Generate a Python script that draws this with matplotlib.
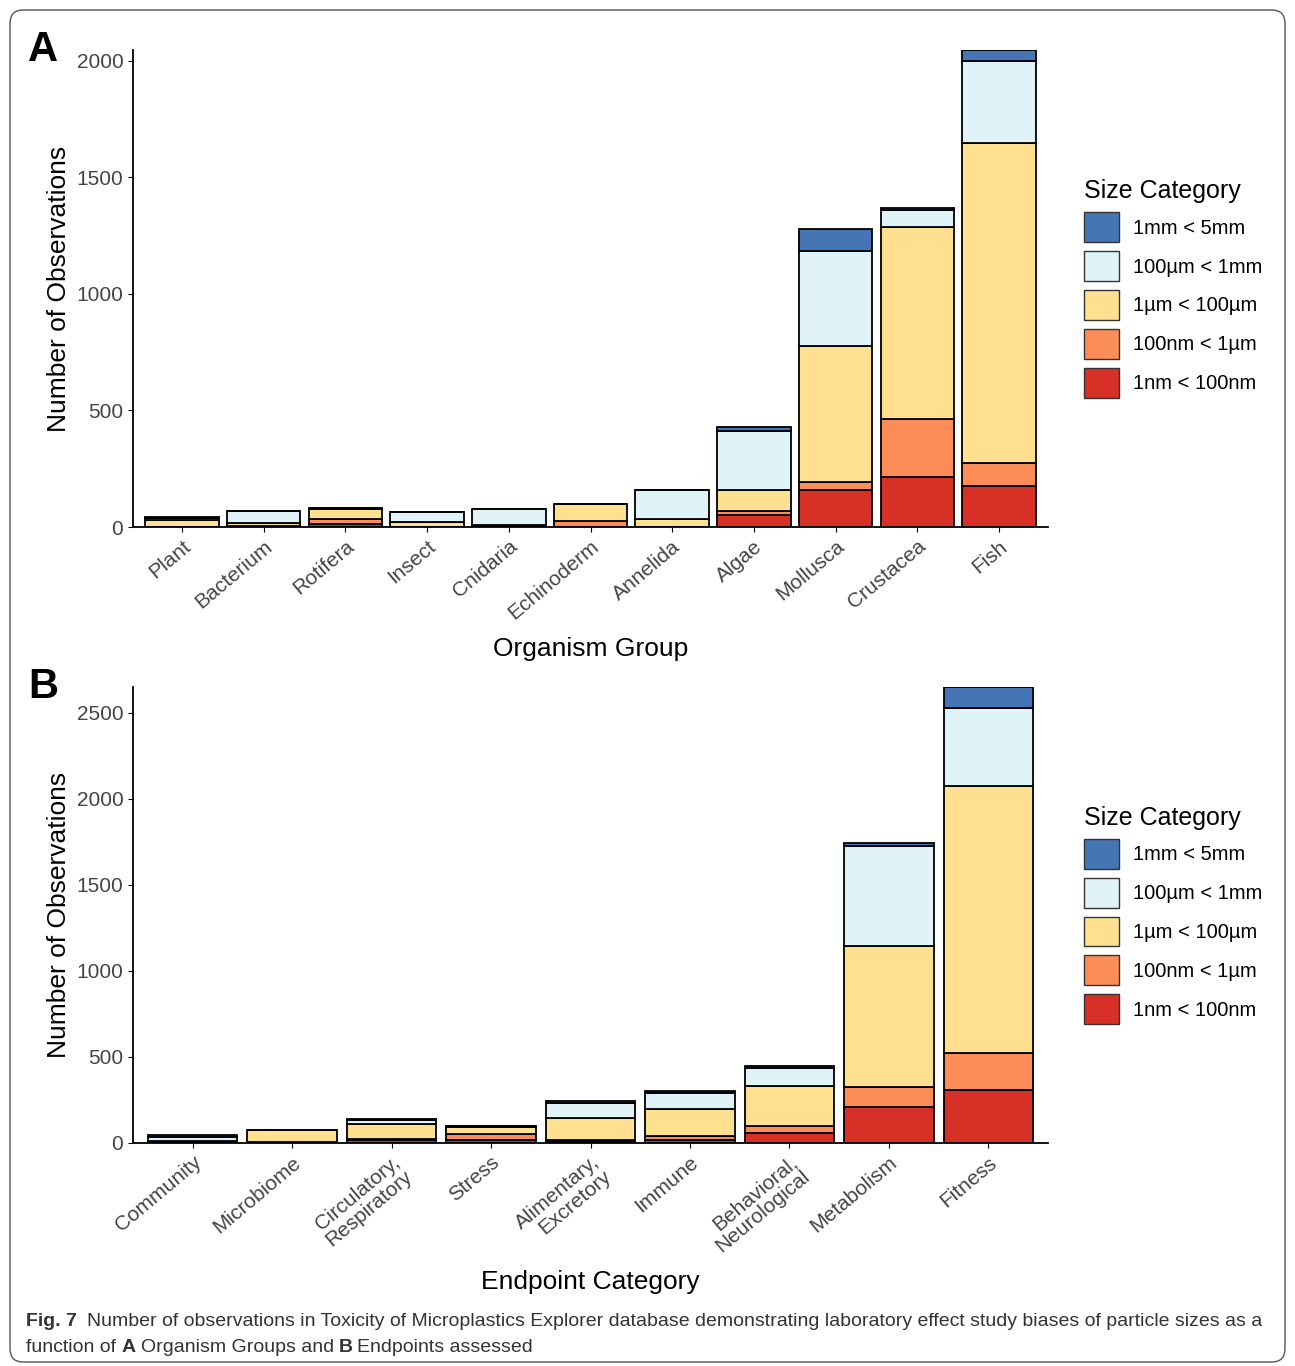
import matplotlib.pyplot as plt
import numpy as np
from matplotlib.patches import FancyBboxPatch, Patch

size_labels = ["1nm < 100nm", "100nm < 1µm", "1µm < 100µm", "100µm < 1mm", "1mm < 5mm"]
size_colors = ["#d73027", "#fc8d59", "#fee090", "#e0f3f8", "#4575b4"]

organisms = ["Plant", "Bacterium", "Rotifera", "Insect", "Cnidaria", "Echinoderm",
             "Annelida", "Algae", "Mollusca", "Crustacea", "Fish"]
org_nm = [0, 3, 15, 2, 3, 2, 0, 50, 160, 215, 175]
org_sub = [0, 3, 18, 0, 2, 25, 0, 20, 35, 250, 100]
org_um = [32, 12, 45, 20, 2, 73, 35, 90, 583, 821, 1372]
org_mm = [5, 50, 3, 43, 70, 0, 125, 250, 405, 73, 353]
org_big = [5, 1, 1, 0, 0, 0, 0, 20, 97, 8, 47]

endpoints = ["Community", "Microbiome", "Circulatory,\nRespiratory", "Stress",
             "Alimentary,\nExcretory", "Immune", "Behavioral,\nNeurological",
             "Metabolism", "Fitness"]
end_nm = [5, 3, 20, 15, 10, 15, 60, 210, 308]
end_sub = [2, 0, 5, 35, 5, 25, 40, 115, 215]
end_um = [5, 70, 85, 45, 130, 160, 230, 820, 1553]
end_mm = [25, 2, 25, 5, 85, 90, 105, 582, 453]
end_big = [9, 0, 5, 0, 15, 10, 15, 18, 122]

plt.rcParams["font.family"] = ["Liberation Sans", "DejaVu Sans"]
fig = plt.figure(figsize=(12.95, 13.66), dpi=100)
W, H = 1295, 1366
fig.patches.append(FancyBboxPatch((10 / W, 4 / H), 1275 / W, 1352 / H,
                                  boxstyle="round,pad=0,rounding_size=0.01",
                                  transform=fig.transFigure, fill=False,
                                  ec="#555555", lw=1))


def panel(rect, cats, layers, ymax, yticks, xlabel, letter):
    ax = fig.add_axes(rect)
    x = np.arange(len(cats))
    bottom = np.zeros(len(cats))
    for vals, col in zip(layers, size_colors):
        vals = np.array(vals, float)
        ax.bar(x, vals, bottom=bottom, width=0.9, color=col, edgecolor="black", lw=1.3)
        bottom += vals
    ax.set_xlim(-0.6, len(cats) - 0.4)
    ax.set_ylim(0, ymax)
    ax.set_yticks(yticks)
    ax.set_xticks(x)
    ax.set_xticklabels(cats, rotation=40, ha="right", rotation_mode="anchor",
                       fontsize=15, color="#444444", linespacing=0.95)
    ax.tick_params(axis="y", labelsize=15, labelcolor="#444444")
    for s in ["top", "right"]:
        ax.spines[s].set_visible(False)
    for s in ["left", "bottom"]:
        ax.spines[s].set_linewidth(1.3)
    ax.set_xlabel(xlabel, fontsize=19, labelpad=10)
    ax.set_ylabel("Number of Observations", fontsize=19)
    ax.text(-0.115, 1.0, letter, transform=ax.transAxes, fontsize=30,
            fontweight="bold", va="center")
    handles = [Patch(facecolor=c, edgecolor="#333333", label=l)
               for c, l in zip(size_colors[::-1], size_labels[::-1])]
    leg = ax.legend(handles=handles, title="Size Category", loc="center left",
                    bbox_to_anchor=(1.02, 0.5), frameon=False,
                    fontsize=14.5, title_fontsize=18, handlelength=1.7, handleheight=1.9,
                    labelspacing=0.45, handletextpad=0.7)
    leg._legend_box.align = "left"
    return ax


panel([133 / W, 1 - 527 / H, 915 / W, 477 / H], organisms,
      [org_nm, org_sub, org_um, org_mm, org_big], 2047, [0, 500, 1000, 1500, 2000],
      "Organism Group", "A")
panel([133 / W, 1 - 1143 / H, 915 / W, 456 / H], endpoints,
      [end_nm, end_sub, end_um, end_mm, end_big], 2651, [0, 500, 1000, 1500, 2000, 2500],
      "Endpoint Category", "B")

cap = dict(fontsize=14, va="center", color="#333333")
fig.text(26 / W, 1 - 1322 / H, "Fig. 7", fontweight="bold", **cap)
fig.text(87 / W, 1 - 1322 / H,
         "Number of observations in Toxicity of Microplastics Explorer database "
         "demonstrating laboratory effect study biases of particle sizes as a", **cap)
fig.text(26 / W, 1 - 1348 / H, "function of", **cap)
fig.text(122 / W, 1 - 1348 / H, "A", fontweight="bold", **cap)
fig.text(141 / W, 1 - 1348 / H, "Organism Groups and", **cap)
fig.text(339 / W, 1 - 1348 / H, "B", fontweight="bold", **cap)
fig.text(357 / W, 1 - 1348 / H, "Endpoints assessed", **cap)

fig.savefig("out.png", dpi=100)
